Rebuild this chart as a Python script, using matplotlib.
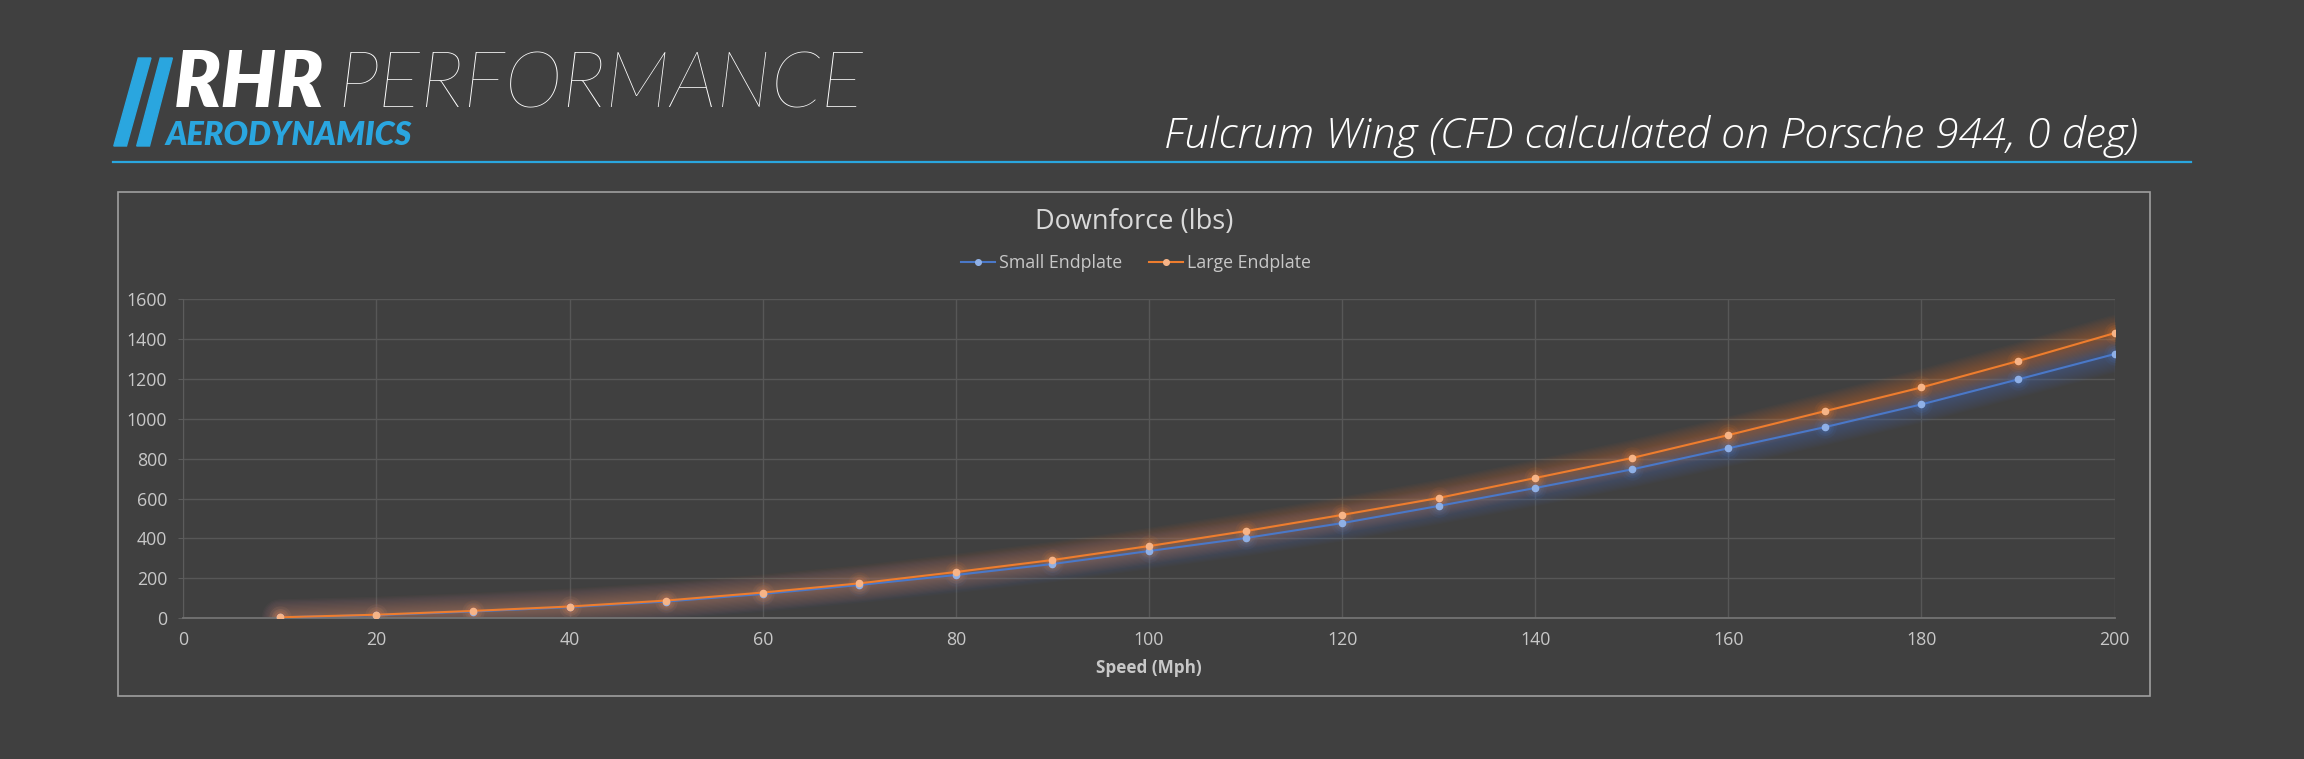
import matplotlib
matplotlib.use("Agg")
import matplotlib.pyplot as plt
from matplotlib.patches import Polygon, Rectangle
from matplotlib.lines import Line2D
import numpy as np

# ---------------- data ----------------
speed = [10, 20, 30, 40, 50, 60, 70, 80, 90, 100, 110, 120, 130, 140, 150, 160, 170, 180, 190, 200]
small_endplate = [5, 16, 34, 56, 84, 122, 167, 217, 272, 337, 402, 477, 563, 653, 746, 852, 958, 1072, 1197, 1324]
large_endplate = [5, 18, 37, 59, 89, 129, 175, 232, 292, 362, 437, 518, 603, 703, 803, 918, 1038, 1157, 1289, 1429]
x_ticks = [0, 20, 40, 60, 80, 100, 120, 140, 160, 180, 200]
y_ticks = [0, 200, 400, 600, 800, 1000, 1200, 1400, 1600]
series_names = ["Small Endplate", "Large Endplate"]
chart_title = "Downforce (lbs)"
x_label = "Speed (Mph)"
page_title = "Fulcrum Wing (CFD calculated on Porsche 944, 0 deg)"

# ---------------- style ----------------
W, H = 2304, 759
BG = "#404040"
BLUE_BRAND = "#2aa6df"
LINE_BLUE = "#4a78c8"
MARK_BLUE = "#8fb0e6"
LINE_ORANGE = "#ee7d2e"
MARK_ORANGE = "#f7b487"
TXT = "#c8c8c8"
FONT = "Open Sans"

plt.rcParams["font.family"] = [FONT, "DejaVu Sans"]

fig = plt.figure(figsize=(W / 100, H / 100), dpi=100, facecolor=BG)


def fx(x):
    return x / W


def fy(y):
    return 1 - y / H


def P(x, y):
    return (fx(x), fy(y))


# ---------------- axes ----------------
left, right, top, bottom = 183.3, 2114.6, 299.0, 618.3
ax = fig.add_axes([fx(left), fy(bottom), (right - left) / W, (bottom - top) / H])
ax.set_facecolor(BG)
ax.set_xlim(0, 200)
ax.set_ylim(0, 1600)
ax.set_xticks(x_ticks)
ax.set_yticks(y_ticks)
ax.grid(True, color="#575757", linewidth=1.0)
ax.set_axisbelow(True)
for s in ["top", "right"]:
    ax.spines[s].set_visible(False)
ax.spines["left"].set_color("#5c5c5c")
ax.spines["bottom"].set_color("#737373")
ax.spines["bottom"].set_linewidth(1.3)
ax.tick_params(axis="y", length=3.6, color="#5c5c5c", pad=8, labelsize=12.8, labelcolor=TXT)
ax.tick_params(axis="x", length=0, pad=9, labelsize=12.8, labelcolor=TXT)
xl = ax.set_xlabel(x_label, fontsize=12.5, fontweight="bold", color=TXT, labelpad=7)

# glow
for ys, lc in [(small_endplate, LINE_BLUE), (large_endplate, LINE_ORANGE)]:
    for lw in np.linspace(26, 3, 14):
        ax.plot(speed, ys, color=lc, linewidth=lw, alpha=0.032, solid_capstyle="round", zorder=2)
    for s, a in [(260, 0.07), (150, 0.1), (80, 0.14)]:
        ax.scatter(speed, ys, s=s, color=lc, alpha=a, linewidths=0, zorder=2)

hs = ax.plot(speed, small_endplate, color=LINE_BLUE, linewidth=1.5, marker="o", markersize=4.5,
             markerfacecolor=MARK_BLUE, markeredgecolor=MARK_BLUE, label=series_names[0], zorder=3)
hl = ax.plot(speed, large_endplate, color=LINE_ORANGE, linewidth=1.5, marker="o", markersize=4.5,
             markerfacecolor=MARK_ORANGE, markeredgecolor=MARK_ORANGE, label=series_names[1], zorder=4)

leg = fig.legend(handles=[hs[0], hl[0]], loc="center", bbox_to_anchor=P(1136, 263), ncol=2,
                 frameon=False, fontsize=12.8, labelcolor=TXT, handlelength=1.9,
                 handletextpad=0.25, columnspacing=1.5, markerscale=0.9)

# chart box
fig.patches.append(Rectangle(P(118.3, 695.7), (2150.3 - 118.3) / W, (695.7 - 191.7) / H,
                             transform=fig.transFigure, facecolor="none", edgecolor="#a0a0a0",
                             linewidth=1.2, zorder=0))

t_chart = fig.text(*P(1134, 229.3), chart_title, ha="center", va="baseline", fontsize=19,
                   color="#d9d9d9")

# ---------------- header / logo ----------------
fig.patches.append(Polygon([P(113.8, 146), P(126.5, 146), P(151, 58), P(138.3, 58)],
                           closed=True, transform=fig.transFigure, color=BLUE_BRAND))
fig.patches.append(Polygon([P(136.7, 146), P(149.5, 146), P(172.4, 58), P(160.2, 58)],
                           closed=True, transform=fig.transFigure, color=BLUE_BRAND))

t_rhr = fig.text(*P(174, 107), "RHR", ha="left", va="baseline", fontsize=48, fontweight="heavy",
                 style="italic", color="white", family=["Lato", "DejaVu Sans"])
t_perf = fig.text(*P(337, 107), "PERFORMANCE", ha="left", va="baseline", fontsize=48,
                  fontweight="light", style="italic", color="white", family=["Lato", "DejaVu Sans"])
t_aero = fig.text(*P(166, 145), "AERODYNAMICS", ha="left", va="baseline", fontsize=18,
                  fontweight="heavy", style="italic", color=BLUE_BRAND, family=["Lato", "DejaVu Sans"])

fig.lines.append(Line2D([fx(112.8), fx(2191)], [fy(161.7), fy(161.7)], transform=fig.transFigure,
                        color=BLUE_BRAND, linewidth=1.6))

t_title = fig.text(*P(2138, 148.3), page_title, ha="right", va="baseline", fontsize=26,
                   fontweight="light", style="italic", color="white")

# fit text widths
fig.canvas.draw()
r = fig.canvas.get_renderer()
for t, wt in [(t_rhr, 150.5), (t_perf, 526), (t_aero, 246), (t_title, 975), (t_chart, 198), (xl, 106)]:
    bb = t.get_window_extent(r)
    t.set_fontsize(t.get_fontsize() * wt / bb.width)

fig.savefig("out.png", dpi=100, facecolor=BG)
